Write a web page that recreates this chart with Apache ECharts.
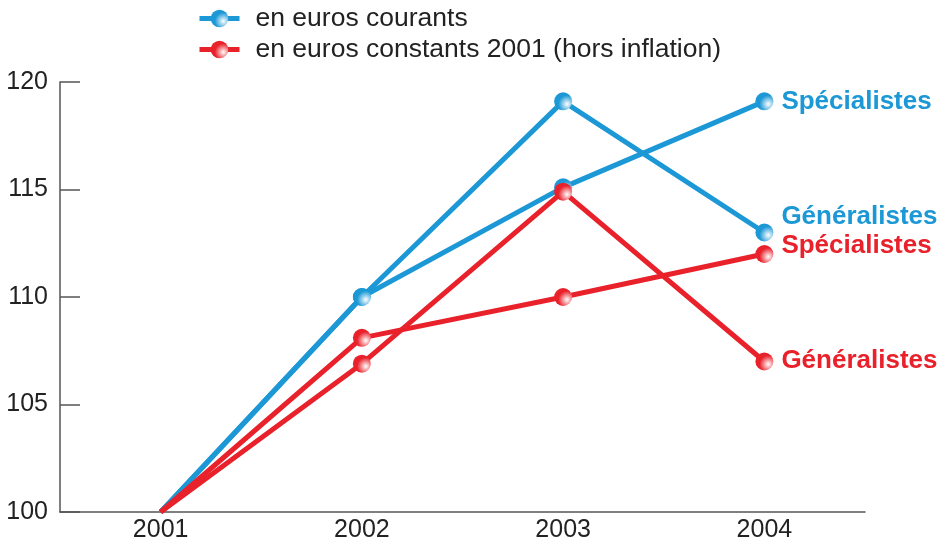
<!DOCTYPE html>
<html>
<head>
<meta charset="utf-8">
<script src="https://cdn.jsdelivr.net/npm/echarts@6/dist/echarts.min.js"></script>
<style>
  html, body { margin: 0; padding: 0; background: #fff; }
  #chart { width: 947px; height: 547px; }
</style>
</head>
<body>
<div id="chart"></div>
<script>
var years = ['2001', '2002', '2003', '2004'];
var yTicks = [100, 105, 110, 115, 120];

// en euros courants
var courantsSpec = [100, 110, 115.1, 119.1];
var courantsGen = [100, 110, 119.1, 113.0];
// en euros constants 2001
var constantsSpec = [100, 108.1, 110, 112];
var constantsGen = [100, 106.9, 114.9, 107];

var legendCourants = 'en euros courants';
var legendConstants = 'en euros constants 2001 (hors inflation)';

var blue = '#1b98d5';
var red = '#e8212b';

function ball(c) {
  return {
    type: 'radial', x: 0.72, y: 0.65, r: 0.75,
    colorStops: [
      { offset: 0, color: '#ffffff' },
      { offset: 0.65, color: c },
      { offset: 1, color: c }
    ]
  };
}

// first point (2001) has no marker
function points(arr) {
  return arr.map(function (v, i) {
    return i === 0 ? { value: v, symbol: 'none' } : v;
  });
}

function makeSeries(name, arr, color, label, offsetY) {
  return {
    name: name,
    type: 'line',
    data: points(arr),
    symbol: 'circle',
    symbolSize: 18,
    showSymbol: true,
    lineStyle: { color: color, width: 5 },
    itemStyle: { color: ball(color) },
    endLabel: {
      show: true,
      formatter: label,
      distance: 17,
      offset: [0, offsetY],
      color: color,
      fontSize: 26,
      fontWeight: 'bold',
      fontFamily: 'Liberation Sans, Arial, sans-serif'
    },
    animation: false,
    z: color === red ? 3 : 2
  };
}

var chart = echarts.init(document.getElementById('chart'));
chart.setOption({
  backgroundColor: '#fff',
  textStyle: { fontFamily: 'Liberation Sans, Arial, sans-serif' },
  legend: {
    orient: 'vertical',
    left: 197,
    top: 5,
    padding: 0,
    itemWidth: 40,
    itemHeight: 22,
    itemGap: 4,
    data: [legendCourants, legendConstants],
    lineStyle: { width: 5 },
    textStyle: { fontSize: 26.5, color: '#222', padding: [0, 0, 0, 11] }
  },
  grid: { left: 60, right: 82, top: 82, bottom: 35, containLabel: false },
  xAxis: {
    type: 'category',
    data: years,
    boundaryGap: true,
    axisLine: { lineStyle: { color: '#555', width: 1.5 } },
    axisTick: { inside: true, alignWithLabel: true, length: 10, lineStyle: { color: '#555', width: 1.5 } },
    axisLabel: { color: '#222', fontSize: 25, margin: 6 },
    splitLine: { show: false }
  },
  yAxis: {
    type: 'value',
    min: yTicks[0],
    max: yTicks[yTicks.length - 1],
    interval: 5,
    axisLine: { show: true, lineStyle: { color: '#555', width: 1.5 } },
    axisTick: { show: true, inside: true, length: 20, lineStyle: { color: '#555', width: 1.5 } },
    axisLabel: { color: '#222', fontSize: 25, margin: 12 },
    splitLine: { show: false }
  },
  series: [
    makeSeries(legendCourants, courantsSpec, blue, 'Spécialistes', 0),
    makeSeries(legendCourants, courantsGen, blue, 'Généralistes', -16),
    makeSeries(legendConstants, constantsSpec, red, 'Spécialistes', -8),
    makeSeries(legendConstants, constantsGen, red, 'Généralistes', -1)
  ]
});
</script>
</body>
</html>
